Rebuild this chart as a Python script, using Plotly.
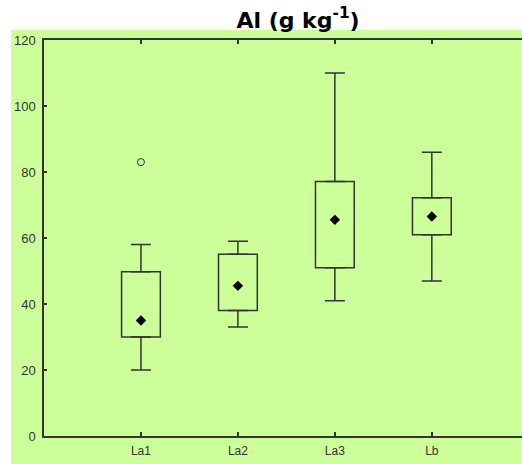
import plotly.graph_objects as go

categories = ["La1", "La2", "La3", "Lb"]
lower_whisker = [20, 33, 41, 47]
q1 = [30, 38, 51, 61]
center = [35, 45.5, 65.5, 66.5]
q3 = [49.8, 55.1, 77.1, 72.2]
upper_whisker = [58, 59, 110, 86]
outlier_cat = ["La1"]
outlier_val = [83]
y_ticks = [0, 20, 40, 60, 80, 100, 120]

LINE = "#333333"
GREEN = "#ccff99"

box_height = [b - a for a, b in zip(q1, q3)]
up_len = [u - b for b, u in zip(q3, upper_whisker)]
low_len = [a - l for a, l in zip(q1, lower_whisker)]
zeros = [0] * len(categories)

fig = go.Figure()
fig.add_trace(go.Bar(
    x=categories, y=box_height, base=q1, width=0.4,
    marker=dict(color="rgba(0,0,0,0)", line=dict(color=LINE, width=1.5)),
    showlegend=False, hoverinfo="skip"))
invisible = dict(size=1, color="rgba(0,0,0,0)")
fig.add_trace(go.Scatter(
    x=categories, y=q3, mode="markers", marker=invisible,
    error_y=dict(type="data", symmetric=False, array=up_len, arrayminus=zeros,
                 width=10, thickness=1.5, color=LINE),
    showlegend=False, hoverinfo="skip"))
fig.add_trace(go.Scatter(
    x=categories, y=q1, mode="markers", marker=invisible,
    error_y=dict(type="data", symmetric=False, array=zeros, arrayminus=low_len,
                 width=10, thickness=1.5, color=LINE),
    showlegend=False, hoverinfo="skip"))
fig.add_trace(go.Scatter(
    x=categories, y=center, mode="markers",
    marker=dict(symbol="diamond", size=8, color="black"),
    showlegend=False))
fig.add_trace(go.Scatter(
    x=outlier_cat, y=outlier_val, mode="markers",
    marker=dict(symbol="circle-open", size=7, color=LINE, line=dict(width=1)),
    showlegend=False))

fig.add_shape(type="rect", xref="paper", yref="paper",
              x0=-0.069, x1=1.05, y0=-0.1, y1=1.0253,
              fillcolor=GREEN, line=dict(width=0), layer="below")

fig.update_layout(
    width=522, height=464,
    margin=dict(l=44, r=0, t=40, b=28),
    paper_bgcolor="white", plot_bgcolor=GREEN,
    title=dict(text="<b>Al (g kg<sup>-1</sup>)</b>", x=0.571, xanchor="center",
               xref="container", y=0.957, yref="container", yanchor="middle",
               font=dict(family="DejaVu Sans", size=22, color="black")),
    font=dict(family="Liberation Sans", color=LINE),
)
fig.update_xaxes(type="category", categoryorder="array", categoryarray=categories,
                 range=[-1, 3.93], showline=True, linecolor=LINE, linewidth=1.5,
                 mirror="ticks", ticks="inside", ticklen=4, tickwidth=1.5,
                 tickcolor=LINE, showgrid=False, zeroline=False,
                 ticklabelstandoff=3,
                 tickfont=dict(size=12, color=LINE))
fig.update_yaxes(range=[0, 120], tickvals=y_ticks, showline=True, linecolor=LINE,
                 linewidth=1.5, mirror=False, ticks="inside", ticklen=3,
                 tickwidth=1.5, tickcolor=LINE, showgrid=False, zeroline=False,
                 ticklabelstandoff=4,
                 tickfont=dict(size=13, color=LINE))

fig.write_html("out.html", config={"displayModeBar": False},
               post_script="document.body.style.margin='0';document.body.style.padding='0';")
